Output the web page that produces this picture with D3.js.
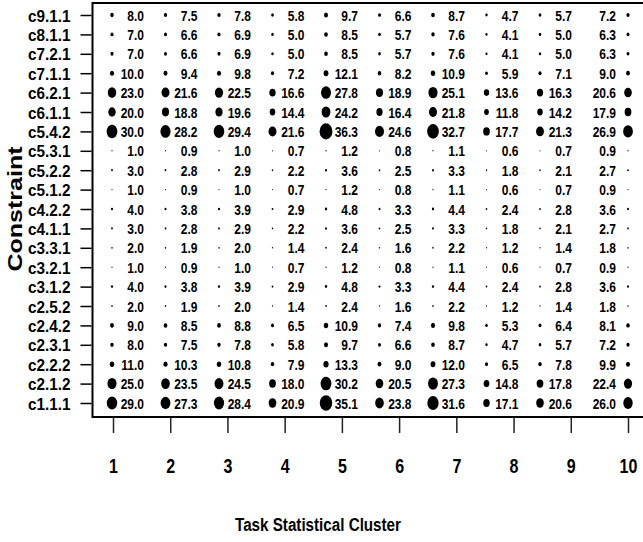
<!DOCTYPE html>
<html>
<head>
<meta charset="utf-8">
<script src="https://cdn.jsdelivr.net/npm/d3@7"></script>
<style>
  body { margin: 0; background: #fff; }
  text { font-family: "Liberation Sans", Arial, sans-serif; font-weight: bold; fill: #000; }
</style>
</head>
<body>
<script>
// constraints, top to bottom
const constraints = ["c9.1.1", "c8.1.1", "c7.2.1", "c7.1.1", "c6.2.1", "c6.1.1", "c5.4.2",
  "c5.3.1", "c5.2.2", "c5.1.2", "c4.2.2", "c4.1.1", "c3.3.1", "c3.2.1", "c3.1.2",
  "c2.5.2", "c2.4.2", "c2.3.1", "c2.2.2", "c2.1.2", "c1.1.1"];

const clusters = [1, 2, 3, 4, 5, 6, 7, 8, 9, 10];

// one row per constraint, one value per cluster
const values = [
  [8.0, 7.5, 7.8, 5.8, 9.7, 6.6, 8.7, 4.7, 5.7, 7.2],
  [7.0, 6.6, 6.9, 5.0, 8.5, 5.7, 7.6, 4.1, 5.0, 6.3],
  [7.0, 6.6, 6.9, 5.0, 8.5, 5.7, 7.6, 4.1, 5.0, 6.3],
  [10.0, 9.4, 9.8, 7.2, 12.1, 8.2, 10.9, 5.9, 7.1, 9.0],
  [23.0, 21.6, 22.5, 16.6, 27.8, 18.9, 25.1, 13.6, 16.3, 20.6],
  [20.0, 18.8, 19.6, 14.4, 24.2, 16.4, 21.8, 11.8, 14.2, 17.9],
  [30.0, 28.2, 29.4, 21.6, 36.3, 24.6, 32.7, 17.7, 21.3, 26.9],
  [1.0, 0.9, 1.0, 0.7, 1.2, 0.8, 1.1, 0.6, 0.7, 0.9],
  [3.0, 2.8, 2.9, 2.2, 3.6, 2.5, 3.3, 1.8, 2.1, 2.7],
  [1.0, 0.9, 1.0, 0.7, 1.2, 0.8, 1.1, 0.6, 0.7, 0.9],
  [4.0, 3.8, 3.9, 2.9, 4.8, 3.3, 4.4, 2.4, 2.8, 3.6],
  [3.0, 2.8, 2.9, 2.2, 3.6, 2.5, 3.3, 1.8, 2.1, 2.7],
  [2.0, 1.9, 2.0, 1.4, 2.4, 1.6, 2.2, 1.2, 1.4, 1.8],
  [1.0, 0.9, 1.0, 0.7, 1.2, 0.8, 1.1, 0.6, 0.7, 0.9],
  [4.0, 3.8, 3.9, 2.9, 4.8, 3.3, 4.4, 2.4, 2.8, 3.6],
  [2.0, 1.9, 2.0, 1.4, 2.4, 1.6, 2.2, 1.2, 1.4, 1.8],
  [9.0, 8.5, 8.8, 6.5, 10.9, 7.4, 9.8, 5.3, 6.4, 8.1],
  [8.0, 7.5, 7.8, 5.8, 9.7, 6.6, 8.7, 4.7, 5.7, 7.2],
  [11.0, 10.3, 10.8, 7.9, 13.3, 9.0, 12.0, 6.5, 7.8, 9.9],
  [25.0, 23.5, 24.5, 18.0, 30.2, 20.5, 27.3, 14.8, 17.8, 22.4],
  [29.0, 27.3, 28.4, 20.9, 35.1, 23.8, 31.6, 17.1, 20.6, 26.0]
];

const w = 643, h = 542;
const box = {left: 92.5, top: 3, right: 646, bottom: 417};
const narrow = 0.8; // the picture is squeezed sideways, so is the type

let svg = d3.select('body')
            .append('svg')
            .attr('width', w)
            .attr('height', h);

// scales
const y = d3.scalePoint().domain(constraints).range([15, 403]);
const tickX = d3.scaleLinear().domain([1, 10]).range([113, 628]);
// the dots sit a bit left of the ticks, last column sits on its tick
const colX = d3.scaleLinear().domain([1, 9]).range([112, 540]);
const dotX = c => c < 10 ? colX(c) : tickX(c);
const r = d3.scaleLinear().domain([0, 40]).range([0.5, 8.8]);

// flatten cells
let cells = [];
constraints.forEach((name, i) => {
  clusters.forEach((c, j) => cells.push({name: name, cluster: c, v: values[i][j]}));
});

// box
svg.append('rect')
  .attr('x', box.left).attr('y', box.top)
  .attr('width', box.right - box.left).attr('height', box.bottom - box.top)
  .attr('fill', 'none').attr('stroke', '#000').attr('stroke-width', 2);

// y axis
let yAxis = svg.append('g').attr('transform', `translate(${box.left - 1},0)`)
  .call(d3.axisLeft(y).tickSize(11));
yAxis.select('.domain').remove();
yAxis.selectAll('line').attr('stroke', '#000').attr('stroke-width', 1.5);
yAxis.selectAll('text')
  .attr('x', 0).attr('dy', null).attr('y', 6)
  .attr('transform', `translate(-21,0) scale(0.9,1)`)
  .attr('font-size', 17).attr('font-family', null).attr('font-weight', 'bold').attr('fill', '#000');

// x axis
let xAxis = svg.append('g').attr('transform', `translate(0,418)`)
  .call(d3.axisBottom(tickX).tickValues(clusters).tickFormat(d3.format('d')).tickSize(15));
xAxis.select('.domain').remove();
xAxis.selectAll('line').attr('stroke', '#222').attr('stroke-width', 1.5);
xAxis.selectAll('text')
  .attr('y', 0).attr('dy', null)
  .attr('transform', `translate(0,55) scale(${narrow},1)`)
  .attr('font-size', 20).attr('font-family', null).attr('font-weight', 'bold').attr('fill', '#000');

// dots
svg.selectAll('ellipse.dot')
  .data(cells)
  .enter()
    .append('ellipse')
    .attr('class', 'dot')
    .attr('cx', d => dotX(d.cluster))
    .attr('cy', d => y(d.name))
    .attr('rx', d => r(d.v) * 0.8)
    .attr('ry', d => r(d.v))
    .attr('fill', '#000');

// value labels
svg.selectAll('text.val')
  .data(cells)
  .enter()
    .append('text')
    .attr('class', 'val')
    .attr('transform', d => {
      let tx = d.cluster < 10 ? dotX(d.cluster) + 32 : dotX(d.cluster) - 12;
      return `translate(${tx},${y(d.name) + 5.5}) scale(${narrow},1)`;
    })
    .attr('text-anchor', 'end')
    .attr('font-size', 15)
    .text(d => d.v.toFixed(1));

// axis titles
svg.append('text')
  .attr('transform', `translate(318,531) scale(${narrow},1)`)
  .attr('text-anchor', 'middle')
  .attr('font-size', 19)
  .text('Task Statistical Cluster');

svg.append('text')
  .attr('transform', 'translate(22,209) scale(0.82,1) rotate(-90)')
  .attr('text-anchor', 'middle')
  .attr('font-size', 25)
  .text('Constraint');
</script>
</body>
</html>
